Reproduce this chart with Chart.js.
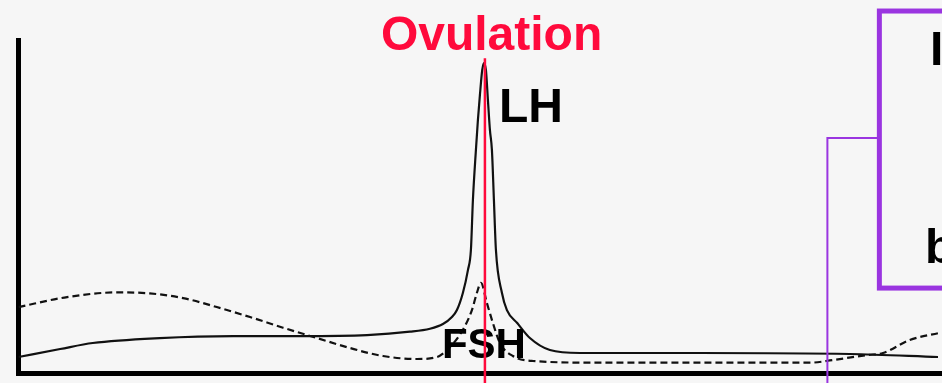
<!DOCTYPE html>
<html>
<head>
<meta charset="utf-8">
<script src="https://cdn.jsdelivr.net/npm/chart.js@4/dist/chart.umd.min.js"></script>
<style>
html,body{margin:0;padding:0;background:#f6f6f6;overflow:hidden}
#wrap{width:942px;height:383px;position:relative}
canvas{display:block}
</style>
</head>
<body>
<div id="wrap"><canvas id="c" width="942" height="383"></canvas></div>
<script>
// Cycle day (x) and relative hormone level (y, 0-100)
const lhDays = [0, 1.25, 2.23, 4.24, 6.44, 8.45, 10.46, 11.75, 12.35, 12.74, 13.01, 13.16, 13.34, 13.49, 13.58, 13.64, 13.73, 13.79, 13.85, 13.92, 13.97, 14.03, 14.09, 14.15, 14.21, 14.27, 14.33, 14.51, 14.66, 14.97, 15.35, 15.95, 16.85, 20.46, 24.95, 27.60];
const lhLevels = [4.8, 7.2, 9.0, 10.5, 11.1, 11.1, 11.4, 12.4, 13.3, 14.7, 16.8, 18.9, 24.1, 30.9, 37.0, 52.0, 67.0, 76.0, 83.5, 91.0, 93.1, 91.0, 82.0, 73.0, 67.0, 52.0, 37.0, 24.1, 18.9, 15.0, 10.5, 6.9, 6.0, 6.0, 5.7, 4.8];

const fshDays = [0, 1.46, 2.96, 3.94, 4.94, 5.95, 6.95, 7.94, 8.96, 9.95, 10.94, 11.96, 12.56, 12.95, 13.34, 13.61, 13.76, 13.88, 14.06, 14.24, 14.45, 14.84, 15.44, 17.45, 23.76, 24.44, 25.47, 25.95, 26.75, 27.66];
const fshLevels = [19.8, 22.8, 24.2, 23.9, 22.5, 19.8, 16.8, 13.6, 10.5, 7.5, 5.1, 4.2, 4.8, 7.8, 13.0, 18.9, 24.1, 27.1, 21.0, 15.0, 9.0, 5.1, 3.6, 3.1, 3.1, 3.9, 5.4, 6.0, 9.9, 12.1];

const xRange = [0, 27.72];
const yRange = [0, 100];

// Annotation anchors (data units)
const ovulationDay = 14.0;
const ovulationLineTop = 94.5;
const markerDay = 24.28;
const markerLevel = 70.6;
const boxLeftDay = 25.84;
const boxTopLevel = 108.7;
const boxBottomLevel = 25.5;

const labels = [
  {text: 'Ovulation', day: 14.20, level: 97.0, color: '#ff0a3c', size: 48, align: 'center'},
  {text: 'LH', day: 14.42, level: 75.5, color: '#000000', size: 48, align: 'left'},
  {text: 'FSH', day: 12.71, level: 4.5, color: '#000000', size: 42, align: 'left'},
  {text: 'I', day: 27.36, level: 92.5, color: '#000000', size: 48, align: 'left'},
  {text: 'b', day: 27.21, level: 33.0, color: '#000000', size: 48, align: 'left'}
];

const toXY = (xs, ys) => xs.map((x, i) => ({x: x, y: ys[i]}));

const bgPlugin = {
  id: 'bg',
  beforeDraw(chart) {
    const ctx = chart.ctx;
    ctx.save();
    ctx.fillStyle = '#f6f6f6';
    ctx.fillRect(0, 0, chart.width, chart.height);
    ctx.restore();
  }
};

const annotPlugin = {
  id: 'annot',
  afterDatasetsDraw(chart) {
    const ctx = chart.ctx;
    const xs = chart.scales.x, ys = chart.scales.y;
    ctx.save();
    // purple marker line
    ctx.strokeStyle = '#9a35e0';
    ctx.lineWidth = 2;
    const mx = xs.getPixelForValue(markerDay);
    const my = ys.getPixelForValue(markerLevel);
    const bx = xs.getPixelForValue(boxLeftDay);
    ctx.beginPath();
    ctx.moveTo(mx, chart.height);
    ctx.lineTo(mx, my);
    ctx.lineTo(bx, my);
    ctx.stroke();
    // purple box
    ctx.lineWidth = 5;
    const bt = ys.getPixelForValue(boxTopLevel);
    const bb = ys.getPixelForValue(boxBottomLevel);
    ctx.strokeRect(bx, bt, chart.width + 40 - bx, bb - bt);
    // labels
    labels.forEach(l => {
      ctx.font = 'bold ' + l.size + 'px "Liberation Sans", Arial, sans-serif';
      ctx.fillStyle = l.color;
      ctx.textAlign = l.align;
      ctx.textBaseline = 'alphabetic';
      ctx.fillText(l.text, xs.getPixelForValue(l.day), ys.getPixelForValue(l.level));
    });
    // ovulation line
    ctx.strokeStyle = '#ff0a3c';
    ctx.lineWidth = 2.5;
    const ox = xs.getPixelForValue(ovulationDay);
    ctx.beginPath();
    ctx.moveTo(ox, ys.getPixelForValue(ovulationLineTop));
    ctx.lineTo(ox, chart.height);
    ctx.stroke();
    ctx.restore();
  }
};

new Chart(document.getElementById('c'), {
  type: 'line',
  data: {
    datasets: [
      {
        label: 'LH',
        data: toXY(lhDays, lhLevels),
        borderColor: '#111111',
        borderWidth: 2.2,
        pointRadius: 0,
        fill: false,
        cubicInterpolationMode: 'monotone'
      },
      {
        label: 'FSH',
        data: toXY(fshDays, fshLevels),
        borderColor: '#111111',
        borderWidth: 2.2,
        borderDash: [7, 4],
        pointRadius: 0,
        fill: false,
        cubicInterpolationMode: 'monotone'
      }
    ]
  },
  options: {
    responsive: false,
    devicePixelRatio: 1,
    animation: false,
    layout: {padding: {left: 18.5, top: 40, right: 0, bottom: 10}},
    plugins: {legend: {display: false}, tooltip: {enabled: false}},
    scales: {
      x: {
        type: 'linear', min: xRange[0], max: xRange[1],
        grid: {display: false, drawTicks: false},
        ticks: {display: false},
        border: {display: true, color: '#000000', width: 5},
        afterFit: s => { s.height = 0; }
      },
      y: {
        type: 'linear', min: yRange[0], max: yRange[1],
        grid: {display: false, drawTicks: false},
        ticks: {display: false},
        border: {display: true, color: '#000000', width: 5},
        afterFit: s => { s.width = 0; }
      }
    }
  },
  plugins: [bgPlugin, annotPlugin]
});
</script>
</body>
</html>
